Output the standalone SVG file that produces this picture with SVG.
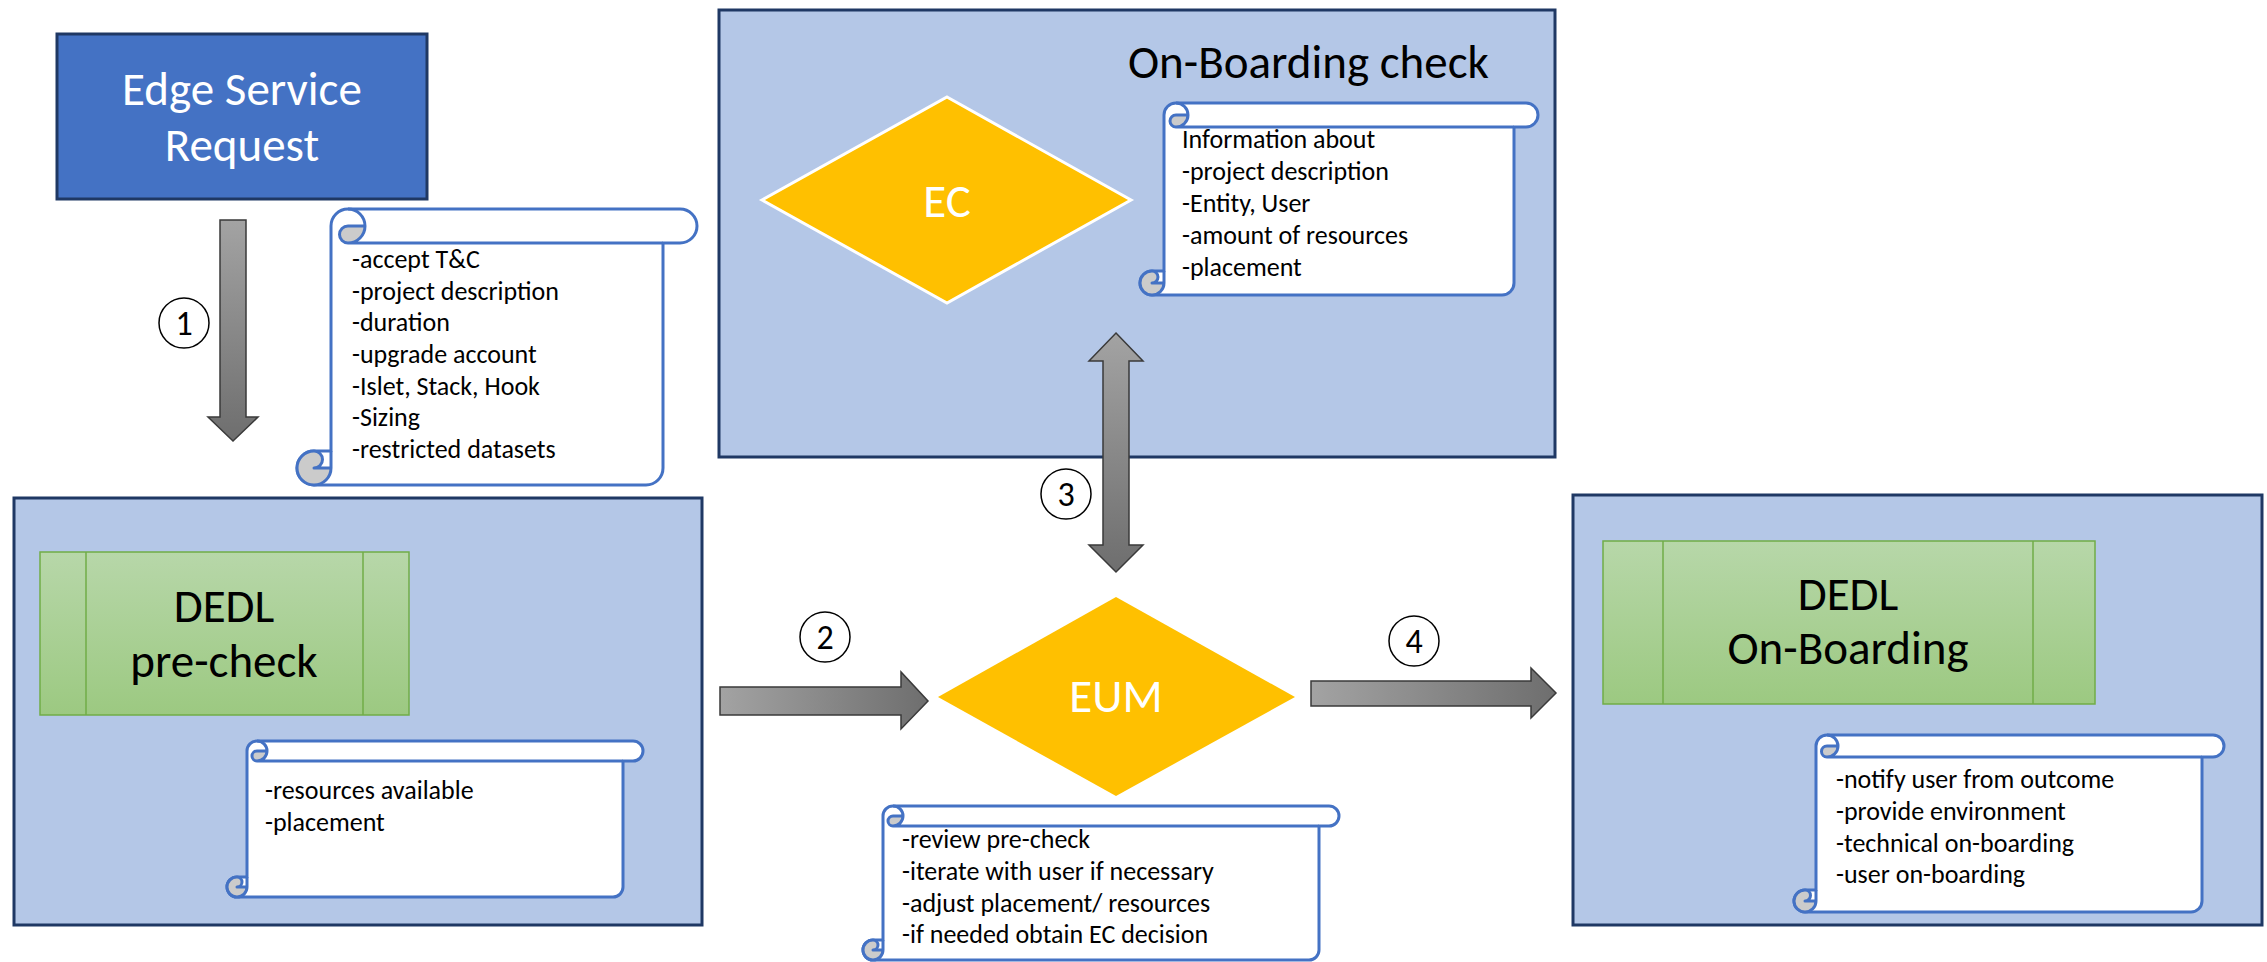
<svg xmlns="http://www.w3.org/2000/svg" width="2267" height="962" viewBox="0 0 2267 962">
<defs>
<linearGradient id="gGreen" x1="0" y1="0" x2="0" y2="1"><stop offset="0" stop-color="#B7D7A9"/><stop offset="1" stop-color="#9CC981"/></linearGradient>
<linearGradient id="gArrV" x1="0" y1="0" x2="0" y2="1"><stop offset="0" stop-color="#A3A3A3"/><stop offset="1" stop-color="#6E6E6E"/></linearGradient>
<linearGradient id="gArrH" x1="0" y1="0" x2="1" y2="0"><stop offset="0" stop-color="#A3A3A3"/><stop offset="1" stop-color="#6E6E6E"/></linearGradient>
<style>
.cont{fill:#B4C7E7;stroke:#1F3864;stroke-width:3}
.green{fill:url(#gGreen);stroke:#70AD47;stroke-width:1.5}
.gline{stroke:#70AD47;stroke-width:1.5;fill:none}
.scw{fill:#FFFFFF;stroke:#4472C4;stroke-width:3;stroke-linejoin:round}
.scg{fill:#CBCBCB;stroke:none}
.scl{fill:none;stroke:#4472C4;stroke-width:3;stroke-linejoin:round}
.arr{stroke:#3A3A3A;stroke-width:1.5}
.num{fill:#FFFFFF;stroke:#000000;stroke-width:1.5}
.t{font-family:Carlito,"Liberation Sans",sans-serif}
.big{font-size:47px}
.sm{font-size:26px;fill:#000000}
.nt{font-family:Carlito,"Liberation Sans",sans-serif;font-size:34px;fill:#000000;text-anchor:middle;font-weight:300}
</style>
</defs>
<rect width="2267" height="962" fill="#FFFFFF"/>

<g id="edge-service-request">
<rect x="57" y="34" width="370" height="165" fill="#4472C4" stroke="#1F3864" stroke-width="3"/>
<text class="t big" x="242" y="105" fill="#FFFFFF" text-anchor="middle">Edge Service</text>
<text class="t big" x="242" y="161" fill="#FFFFFF" text-anchor="middle">Request</text>
</g>

<g id="onboarding-check">
<rect class="cont" x="719" y="10" width="836" height="447"/>
<text class="t big" x="1128" y="78" fill="#000000">On-Boarding check</text>
</g>

<g id="ec">
<polygon points="947,97 1131,200 947,303 762,200" fill="#FFC000" stroke="#FFFFFF" stroke-width="3"/>
<text class="t big" x="947" y="217" fill="#FFFFFF" text-anchor="middle">EC</text>
</g>

<g id="precheck-container">
<rect class="cont" x="14" y="498" width="688" height="427"/>
</g>
<g id="dedl-precheck">
<rect class="green" x="40" y="552" width="369" height="163"/>
<line class="gline" x1="86" y1="552" x2="86" y2="715"/>
<line class="gline" x1="363" y1="552" x2="363" y2="715"/>
<text class="t big" x="224" y="622" fill="#000000" text-anchor="middle">DEDL</text>
<text class="t big" x="224" y="677" fill="#000000" text-anchor="middle">pre-check</text>
</g>

<g id="onboarding-container">
<rect class="cont" x="1573" y="495" width="689" height="430"/>
</g>
<g id="dedl-onboarding">
<rect class="green" x="1603" y="541" width="492" height="163"/>
<line class="gline" x1="1663" y1="541" x2="1663" y2="704"/>
<line class="gline" x1="2033" y1="541" x2="2033" y2="704"/>
<text class="t big" x="1848" y="610" fill="#000000" text-anchor="middle">DEDL</text>
<text class="t big" x="1848" y="664" fill="#000000" text-anchor="middle">On-Boarding</text>
</g>

<g id="eum">
<polygon points="1116,597 1295,697 1116,796 938,697" fill="#FFC000"/>
<text class="t big" x="1116" y="712" fill="#FFFFFF" text-anchor="middle">EUM</text>
</g>

<g id="scroll-request">
<path class="scw" d="M331,451 L331,226 A17,17 0 0 1 348,209 L680,209 A17,17 0 0 1 680,243 L663,243 L663,468 A17,17 0 0 1 646,485 L314,485 A17,17 0 0 1 314,451 Z"/>
<path class="scg" d="M365,226 A17,17 0 0 1 348,243 A8.5,8.5 0 0 1 348,226 Z"/>
<path class="scg" d="M331,468 A17,17 0 1 1 314,451 A8.5,8.5 0 0 1 314,468 Z"/>
<path class="scl" d="M348,209 A17,17 0 0 1 348,243 A8.5,8.5 0 0 1 348,226 L365,226 M663,243 L348,243 M314,451 A8.5,8.5 0 0 1 314,468 L331,468 M314,485 A17,17 0 0 0 331,468 L331,451 M314,451 A17,17 0 0 0 314,485"/>
<text class="t sm" x="352"><tspan x="352" y="268">-accept T&amp;C</tspan><tspan x="352" y="299.7">-project description</tspan><tspan x="352" y="331.3">-duration</tspan><tspan x="352" y="363">-upgrade account</tspan><tspan x="352" y="394.7">-Islet, Stack, Hook</tspan><tspan x="352" y="426.3">-Sizing</tspan><tspan x="352" y="458">-restricted datasets</tspan></text>
</g>

<g id="scroll-info">
<path class="scw" d="M1164,271 L1164,115 A12,12 0 0 1 1176,103 L1526,103 A12,12 0 0 1 1526,127 L1514,127 L1514,283 A12,12 0 0 1 1502,295 L1152,295 A12,12 0 0 1 1152,271 Z"/>
<path class="scg" d="M1188,115 A12,12 0 0 1 1176,127 A6,6 0 0 1 1176,115 Z"/>
<path class="scg" d="M1164,283 A12,12 0 1 1 1152,271 A6,6 0 0 1 1152,283 Z"/>
<path class="scl" d="M1176,103 A12,12 0 0 1 1176,127 A6,6 0 0 1 1176,115 L1188,115 M1514,127 L1176,127 M1152,271 A6,6 0 0 1 1152,283 L1164,283 M1152,295 A12,12 0 0 0 1164,283 L1164,271 M1152,271 A12,12 0 0 0 1152,295"/>
<text class="t sm"><tspan x="1182" y="148">Information about</tspan><tspan x="1182" y="180">-project description</tspan><tspan x="1182" y="212">-Entity, User</tspan><tspan x="1182" y="244">-amount of resources</tspan><tspan x="1182" y="276">-placement</tspan></text>
</g>

<g id="scroll-precheck">
<path class="scw" d="M247,877 L247,751 A10,10 0 0 1 257,741 L633,741 A10,10 0 0 1 633,761 L623,761 L623,887 A10,10 0 0 1 613,897 L237,897 A10,10 0 0 1 237,877 Z"/>
<path class="scg" d="M267,751 A10,10 0 0 1 257,761 A5,5 0 0 1 257,751 Z"/>
<path class="scg" d="M247,887 A10,10 0 1 1 237,877 A5,5 0 0 1 237,887 Z"/>
<path class="scl" d="M257,741 A10,10 0 0 1 257,761 A5,5 0 0 1 257,751 L267,751 M623,761 L257,761 M237,877 A5,5 0 0 1 237,887 L247,887 M237,897 A10,10 0 0 0 247,887 L247,877 M237,877 A10,10 0 0 0 237,897"/>
<text class="t sm"><tspan x="265" y="799">-resources available</tspan><tspan x="265" y="831">-placement</tspan></text>
</g>

<g id="scroll-eum">
<path class="scw" d="M883,940 L883,816 A10,10 0 0 1 893,806 L1329,806 A10,10 0 0 1 1329,826 L1319,826 L1319,950 A10,10 0 0 1 1309,960 L873,960 A10,10 0 0 1 873,940 Z"/>
<path class="scg" d="M903,816 A10,10 0 0 1 893,826 A5,5 0 0 1 893,816 Z"/>
<path class="scg" d="M883,950 A10,10 0 1 1 873,940 A5,5 0 0 1 873,950 Z"/>
<path class="scl" d="M893,806 A10,10 0 0 1 893,826 A5,5 0 0 1 893,816 L903,816 M1319,826 L893,826 M873,940 A5,5 0 0 1 873,950 L883,950 M873,960 A10,10 0 0 0 883,950 L883,940 M873,940 A10,10 0 0 0 873,960"/>
<text class="t sm"><tspan x="902" y="848">-review pre-check</tspan><tspan x="902" y="880">-iterate with user if necessary</tspan><tspan x="902" y="912">-adjust placement/ resources</tspan><tspan x="902" y="943">-if needed obtain EC decision</tspan></text>
</g>

<g id="scroll-onboarding">
<path class="scw" d="M1816,890 L1816,746 A11,11 0 0 1 1827,735 L2213,735 A11,11 0 0 1 2213,757 L2202,757 L2202,901 A11,11 0 0 1 2191,912 L1805,912 A11,11 0 0 1 1805,890 Z"/>
<path class="scg" d="M1838,746 A11,11 0 0 1 1827,757 A5.5,5.5 0 0 1 1827,746 Z"/>
<path class="scg" d="M1816,901 A11,11 0 1 1 1805,890 A5.5,5.5 0 0 1 1805,901 Z"/>
<path class="scl" d="M1827,735 A11,11 0 0 1 1827,757 A5.5,5.5 0 0 1 1827,746 L1838,746 M2202,757 L1827,757 M1805,890 A5.5,5.5 0 0 1 1805,901 L1816,901 M1805,912 A11,11 0 0 0 1816,901 L1816,890 M1805,890 A11,11 0 0 0 1805,912"/>
<text class="t sm"><tspan x="1836" y="788">-notify user from outcome</tspan><tspan x="1836" y="820">-provide environment</tspan><tspan x="1836" y="852">-technical on-boarding</tspan><tspan x="1836" y="883">-user on-boarding</tspan></text>
</g>

<g id="connectors">
<polygon class="arr" fill="url(#gArrV)" points="220,220 246,220 246,417 258,417 233,441 208,417 220,417"/>
<polygon class="arr" fill="url(#gArrH)" points="720,687 901,687 901,672 928,701 901,729 901,715 720,715"/>
<polygon class="arr" fill="url(#gArrV)" points="1116,333 1143,361 1129,361 1129,545 1143,545 1116,572 1089,545 1103,545 1103,361 1089,361"/>
<polygon class="arr" fill="url(#gArrH)" points="1311,681 1531,681 1531,668 1556,693 1531,718 1531,706 1311,706"/>
<circle class="num" cx="184" cy="323" r="25"/>
<text class="nt" x="184" y="335">1</text>
<circle class="num" cx="825" cy="637" r="25"/>
<text class="nt" x="825" y="649">2</text>
<circle class="num" cx="1066" cy="494" r="25"/>
<text class="nt" x="1066" y="506">3</text>
<circle class="num" cx="1414" cy="641" r="25"/>
<text class="nt" x="1414" y="653">4</text>
</g>
</svg>
